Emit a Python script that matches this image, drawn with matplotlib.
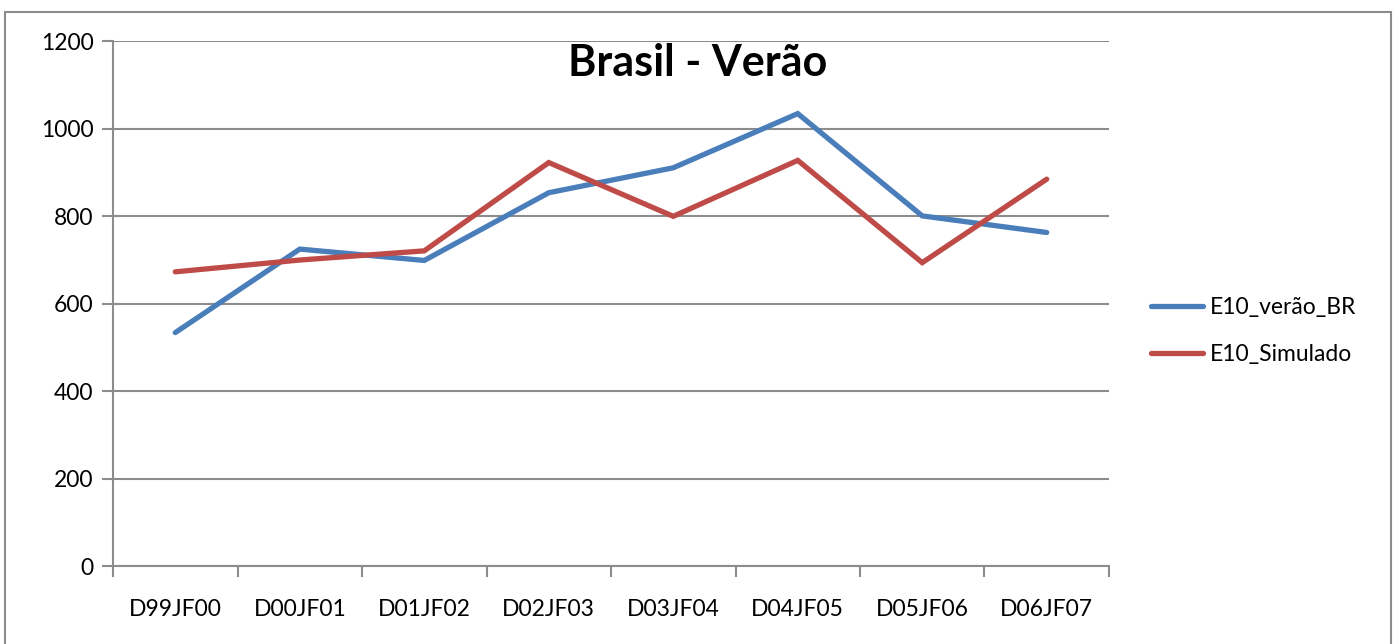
import matplotlib

matplotlib.use("Agg")
import matplotlib.pyplot as plt
import numpy as np
from matplotlib.patches import Rectangle

# seasons (December of year N through February of year N+1)
seasons = ["D99JF00", "D00JF01", "D01JF02", "D02JF03", "D03JF04", "D04JF05", "D05JF06", "D06JF07"]
e10_verao_br = [534, 725, 699, 854, 911, 1035, 801, 763]
e10_simulado = [673, 700, 721, 923, 800, 928, 694, 885]
y_ticks = [0, 200, 400, 600, 800, 1000, 1200]

BLUE = "#4A7EBB"
RED = "#BE4B48"
GRID = "#8C8C8C"
FS = 16.5

plt.rcParams["font.family"] = ["Lato", "DejaVu Sans"]

fig = plt.figure(figsize=(13.99, 6.44), dpi=100)
ax = fig.add_axes([0.0808, 0.1211, 0.7119, 0.8145])

x = np.arange(len(seasons))
ax.plot(x, e10_verao_br, color=BLUE, linewidth=3.8, solid_capstyle="round",
        solid_joinstyle="miter", label="E10_verão_BR")
ax.plot(x, e10_simulado, color=RED, linewidth=3.8, solid_capstyle="round",
        solid_joinstyle="miter", label="E10_Simulado")

ax.set_xlim(-0.5, len(seasons) - 0.5)
ax.set_ylim(0, 1200)
ax.set_yticks(y_ticks)
ax.set_xticks(x)
ax.set_xticklabels(seasons)
ax.set_xticks(np.arange(len(seasons) + 1) - 0.5, minor=True)
ax.tick_params(axis="x", which="major", length=0, pad=24, labelsize=FS)
ax.tick_params(axis="x", which="minor", length=8, width=1.5, color=GRID, direction="out")
ax.tick_params(axis="y", length=8, width=1.5, color=GRID, direction="out", pad=6, labelsize=FS)

ax.grid(True, axis="y", color=GRID, linewidth=1.5)
ax.set_axisbelow(True)
for side in ("top", "right"):
    ax.spines[side].set_visible(False)
for side in ("left", "bottom"):
    ax.spines[side].set_color(GRID)
    ax.spines[side].set_linewidth(1.5)

fig.text(0.499, 1 - 63 / 644, "Brasil - Verão", fontsize=31, fontweight="bold",
         ha="center", va="center")

ax.legend(loc="center left", bbox_to_anchor=(1130 / 1399, 1 - 331 / 644),
          bbox_transform=fig.transFigure, frameon=False, fontsize=FS,
          handlelength=2.3, handletextpad=0.3, labelspacing=1.1)

# outer chart frame
fig.patches.append(Rectangle((5 / 1399, -0.05), 1386 / 1399, 1.05 - 12 / 644,
                             transform=fig.transFigure, fill=False,
                             edgecolor="#8C8C8C", linewidth=1.5))

fig.savefig("out.png", dpi=100)
